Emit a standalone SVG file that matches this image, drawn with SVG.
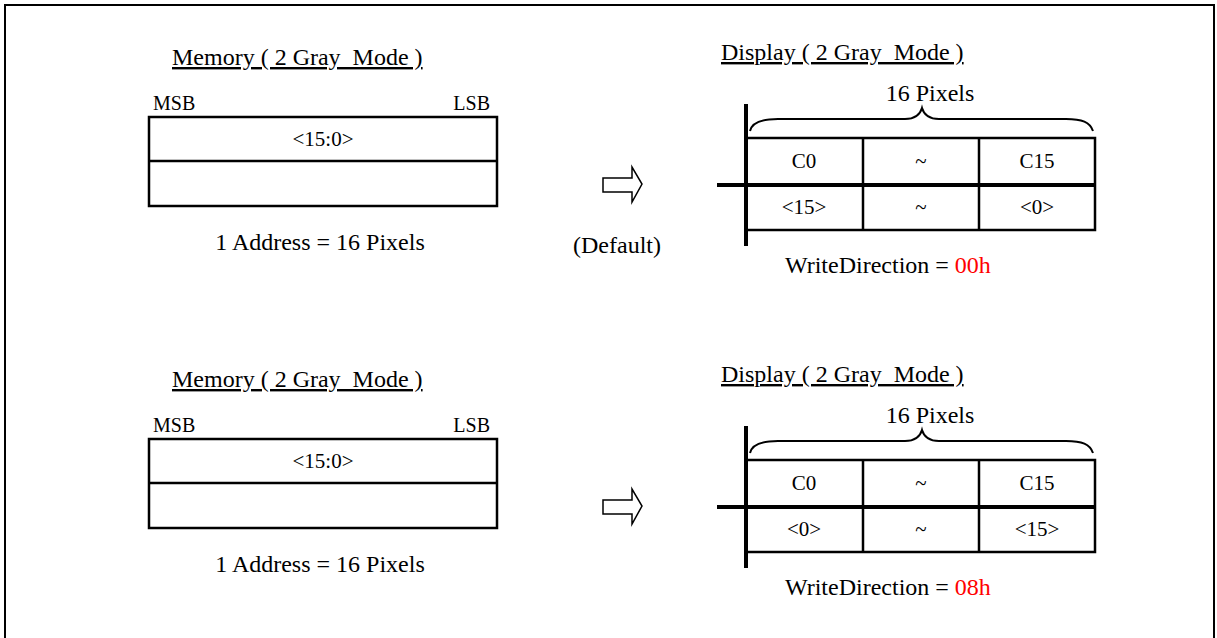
<svg xmlns="http://www.w3.org/2000/svg" width="1217" height="638" viewBox="0 0 1217 638">
<style>
text{font-family:"Liberation Serif","Times New Roman",serif;fill:#000;white-space:pre}
.t{font-size:24px}
.s{font-size:20px}
.c{font-size:21px;text-anchor:middle}
.m{text-anchor:middle}
.u{text-decoration:underline}
.red{fill:#ff0000}
.box{fill:none;stroke:#000;stroke-width:2.5}
.thick{stroke:#000;stroke-width:4;fill:none}
.thin{stroke:#000;stroke-width:2;fill:none}
.arr{fill:#fff;stroke:#000;stroke-width:1.5}
</style>
<defs>
<g id="memory">
<text class="t u" x="172" y="65">Memory ( 2 Gray  Mode )</text>
<text class="s" x="153" y="110">MSB</text>
<text class="s" x="490" y="110" text-anchor="end">LSB</text>
<rect class="box" x="149" y="117" width="348" height="89"/>
<line class="box" x1="149" y1="161" x2="497" y2="161"/>
<text class="c" x="323" y="146">&lt;15:0&gt;</text>
<text class="t m" x="320" y="250">1 Address = 16 Pixels</text>
</g>
<g id="display">
<text class="t u" x="721" y="60">Display ( 2 Gray  Mode )</text>
<text class="t m" x="930" y="101">16 Pixels</text>
<path class="thin" d="M750,131 C752,122 762,119 778,119 L905,119 C915,119 920,115 922,108 C924,115 929,119 939,119 L1066,119 C1082,119 1090,122 1093,131"/>
<rect class="box" x="746" y="138" width="349" height="92"/>
<line class="box" x1="863" y1="138" x2="863" y2="230"/>
<line class="box" x1="979" y1="138" x2="979" y2="230"/>
<line class="thick" x1="746" y1="104" x2="746" y2="246"/>
<line class="thick" x1="717" y1="185" x2="1095" y2="185"/>
<text class="c" x="804" y="168">C0</text>
<text class="c" x="921" y="168">~</text>
<text class="c" x="1037" y="168">C15</text>
</g>
<path id="arrow" class="arr" d="M603,178 L632,178 L632,167 L642,184 L632,202 L632,192 L603,192 Z"/>
</defs>
<rect x="5" y="5" width="1209" height="640" fill="none" stroke="#000" stroke-width="2"/>
<g id="connectors">
<use href="#arrow"/>
<use href="#arrow" y="322"/>
</g>
<g id="memory-top"><use href="#memory"/></g>
<g id="display-top">
<use href="#display"/>
<text class="c" x="804" y="214">&lt;15&gt;</text>
<text class="c" x="921" y="214">~</text>
<text class="c" x="1037" y="214">&lt;0&gt;</text>
<text class="t" x="785" y="273">WriteDirection = <tspan class="red">00h</tspan></text>
</g>
<g id="default-label"><text class="t m" x="617" y="253">(Default)</text></g>
<g id="memory-bottom"><use href="#memory" y="322"/></g>
<g id="display-bottom">
<use href="#display" y="322"/>
<text class="c" x="804" y="536">&lt;0&gt;</text>
<text class="c" x="921" y="536">~</text>
<text class="c" x="1037" y="536">&lt;15&gt;</text>
<text class="t" x="785" y="595">WriteDirection = <tspan class="red">08h</tspan></text>
</g>
</svg>
